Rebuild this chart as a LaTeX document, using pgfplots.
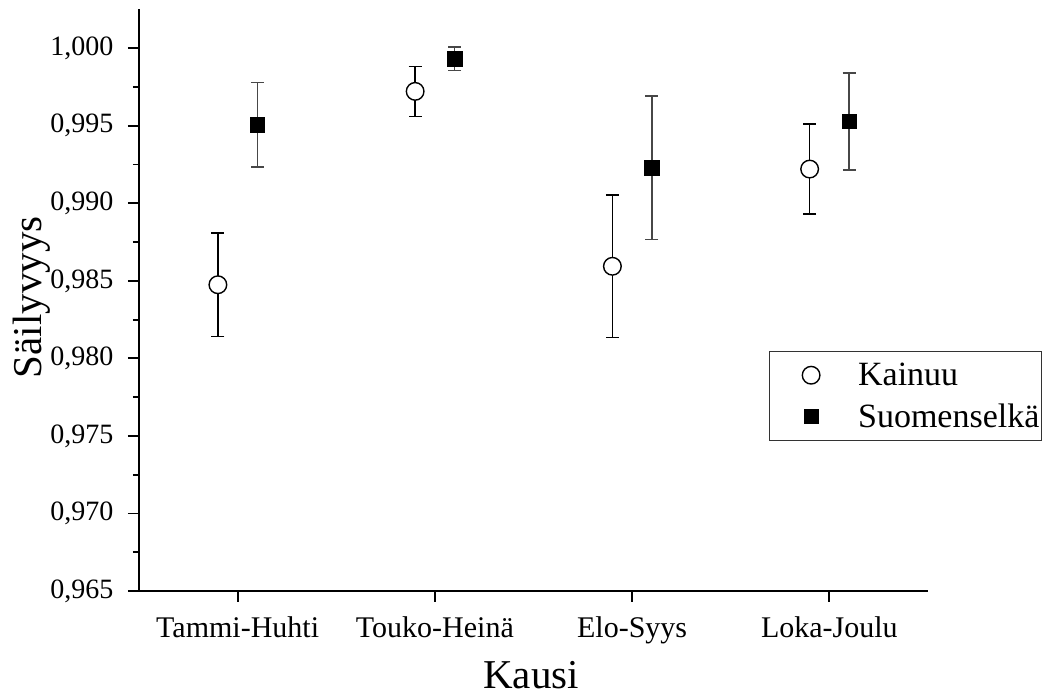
\documentclass[border=0pt]{standalone}
\usepackage{fontspec}
\setmainfont{Liberation Serif}
\usepackage{pgfplots}
\pgfplotsset{compat=1.18}
\begin{document}
\begin{tikzpicture}
\path[use as bounding box] (-139pt,-107pt) rectangle (906pt,591pt);
\begin{axis}[
  scale only axis, width=789pt, height=581.5pt,
  xmin=-0.5, xmax=3.5, ymin=0.965, ymax=1.0025,
  axis lines=left, axis line style={-, line width=1.8pt},
  xtick={0,1,2,3}, xticklabels={Tammi-Huhti,Touko-Heinä,Elo-Syys,Loka-Joulu},
  ytick={0.965,0.970,0.975,0.980,0.985,0.990,0.995,1.000},
  minor y tick num=1,
  tick align=outside, major tick length=11pt, minor tick length=6pt,
  tick style={line width=1.8pt, black},
  xticklabel style={font=\fontsize{30}{33}\selectfont, yshift=-11pt},
  yticklabel style={font=\fontsize{28}{31}\selectfont, xshift=-11pt, /pgf/number format/.cd, fixed, fixed zerofill, precision=3, use comma, assume math mode=true},
  xlabel={Kausi}, ylabel={Säilyvyys},
  every axis x label/.style={at={(axis description cs:0.497,-0.144)}, anchor=center, font=\fontsize{41}{45}\selectfont},
  every axis y label/.style={at={(axis description cs:-0.1356,0.505)}, anchor=center, rotate=90, font=\fontsize{41}{45}\selectfont},
  clip=false,
  legend style={at={(axis description cs:0.798,0.4132)}, anchor=north west, draw=black!80, line width=1pt,
    inner xsep=0pt, inner ysep=10pt, row sep=13pt, font=\fontsize{34}{37}\selectfont, nodes={inner sep=0pt, inner xsep=2pt}},
  legend cell align=left,
  legend image code/.code={\path[draw=none] (-42pt,-14pt) rectangle (45pt,14pt); \draw[#1] plot coordinates {(0pt,0pt)};},
]
\addplot[only marks, mark=*, mark size=8.8pt, mark options={fill=white, draw=black, line width=1.4pt},
  error bars/.cd, y dir=both, y explicit,
  error bar style={line width=1.4pt, black},
  error mark options={rotate=90, mark size=6.5pt, line width=1.4pt, black}]
  table[x=x, y=y, y error=e] {
x y e
-0.1 0.98475 0.00334
0.9 0.99722 0.00162
1.9 0.98594 0.00459
2.9 0.99221 0.00291
};
\addlegendentry{Kainuu}
\addplot[only marks, mark=square*, mark size=7.2pt, mark options={fill=black, draw=black, line width=0.5pt},
  error bars/.cd, y dir=both, y explicit,
  error bar style={line width=1.6pt, black!72},
  error mark options={rotate=90, mark size=6.5pt, line width=1.6pt, black!72}]
  table[x=x, y=y, y error=e] {
x y e
0.1 0.99507 0.00271
1.1 0.99932 0.00076
2.1 0.99230 0.00462
3.1 0.99528 0.00312
};
\addlegendentry{Suomenselkä}
\end{axis}
\end{tikzpicture}
\end{document}
